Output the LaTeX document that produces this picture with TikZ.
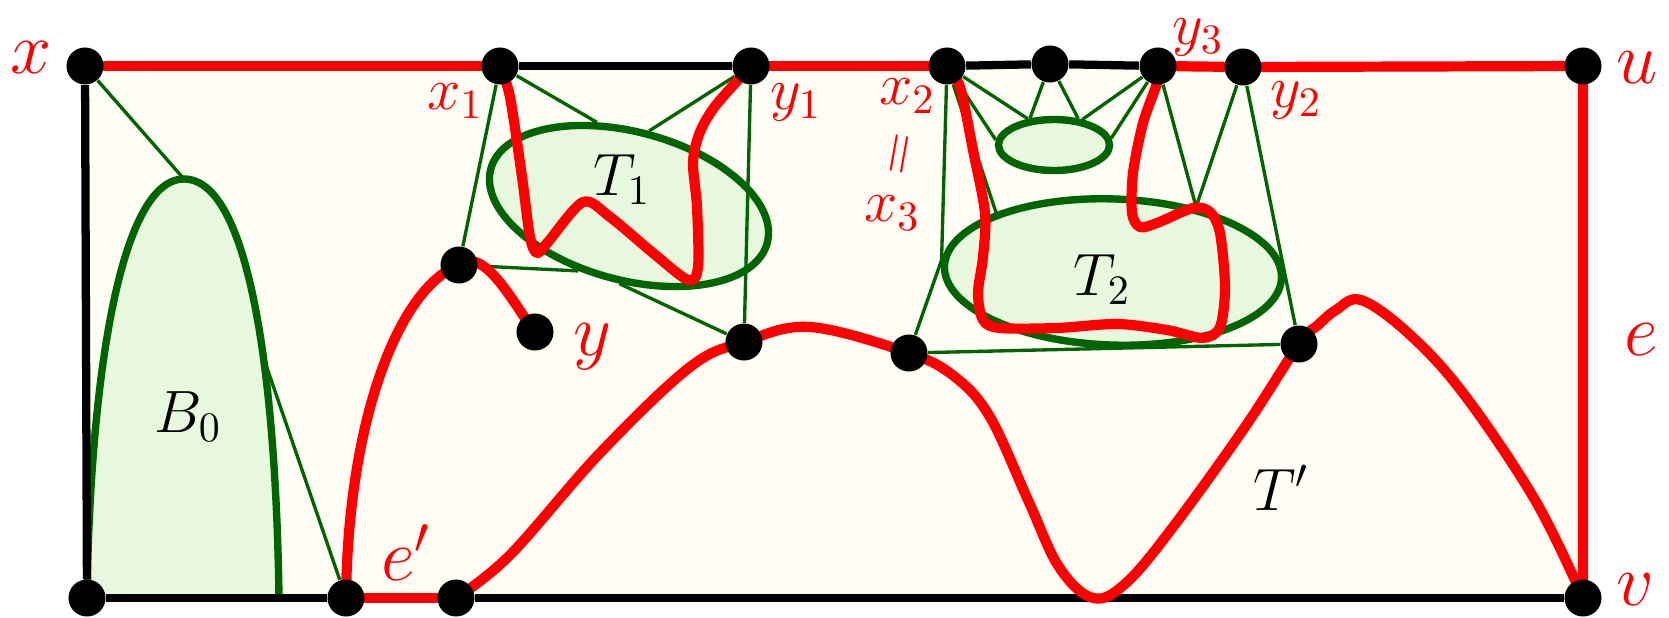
\RequirePackage{fix-cm}
\documentclass[tikz,border=0pt]{standalone}
\usetikzlibrary{shapes.geometric}
\pgfdeclarelayer{front}
\pgfsetlayers{main,front}
\definecolor{paper}{RGB}{255,253,244}
\definecolor{leaf}{RGB}{232,248,222}
\definecolor{moss}{RGB}{0,100,0}
\tikzset{
  vtx/.style={circle, fill=black, inner sep=0pt, minimum size=0.37cm},
  blob/.style={ellipse, draw=moss, fill=leaf, line width=2.1pt, inner sep=0pt},
  tie/.style={moss, line width=0.95pt},
  rim/.style={black, line width=2.35pt},
  cyc/.style={red, line width=2.9pt, line cap=round, line join=round},
  lab/.style={text=red, inner sep=0pt, font=\fontsize{21}{25}\selectfont},
  sublab/.style={text=red, inner sep=0pt, font=\fontsize{17}{20}\selectfont},
  blobname/.style={inner sep=0pt, font=\fontsize{17}{20}\selectfont},
}
\begin{document}
\begin{tikzpicture}[x=0.01cm, y=0.01cm]
  \useasboundingbox (0,0) rectangle (1669,617);
  \begin{pgfonlayer}{front}
    \foreach \vn/\vx/\vy in {x/85/551, x1/500/551, y1/751/551, x2/947/551,
        m/1050/553, y3/1158/551, y2/1243/550, u/1583/551, v/1583/19,
        w/87/19, ea/346/19, eb/456/19, s/459/352, y/535/285, t/744/275,
        r/909/264, z/1299/273}
      \node[vtx] (\vn) at (\vx,\vy) {};
  \end{pgfonlayer}
  \fill[paper] (85,19) rectangle (1583,551);
  % B0
  \coordinate (b0top) at (184,438);
  \coordinate (b0r) at (265,255);
  \filldraw[fill=leaf, draw=moss, line width=2.1pt] (w.center)
    .. controls (90,237) and (120,438) .. (b0top)
    .. controls (250,438) and (276,237) .. (279,19);
  % blobs
  \node[blob, minimum width=2.86cm, minimum height=1.48cm, rotate=-15] (T1) at (629,411) {};
  \node[blob, minimum width=3.37cm, minimum height=1.46cm, rotate=-2] (T2) at (1113,345) {};
  \node[blob, minimum width=1.11cm, minimum height=0.51cm] (Ts) at (1054,472) {};
  % green edges
  \draw[tie] (x) -- (b0top);
  \draw[tie] (b0r) -- (ea);
  \draw[tie] (x1) -- (T1.126);
  \draw[tie] (y1) -- (T1.90);
  \draw[tie] (x1) -- (s);
  \draw[tie] (y1) -- (t);
  \draw[tie] (s) -- (T1.247);
  \draw[tie] (t) -- (T1.278);
  \draw[tie] (x2) -- (Ts.175);
  \draw[tie] (x2) -- (Ts.135);
  \draw[tie] (m) -- (Ts.132);
  \draw[tie] (m) -- (Ts.48);
  \draw[tie] (y3) -- (Ts.42);
  \draw[tie] (y3) -- (Ts.7);
  \draw[tie] (x2) -- (T2.178) -- (r);
  \draw[tie] (x2) -- (T2.155);
  \draw[tie] (y3) -- (T2.40) -- (y2);
  \draw[tie] (y2) -- (z);
  \draw[tie] (r) -- (z);
  % outer face
  \draw[rim] (w) -- (x);
  \draw[rim] (w) -- (ea);
  \draw[rim] (eb) -- (v);
  \draw[rim] (x1) -- (y1);
  \draw[rim] (x2) -- (m) -- (y3);
  \draw[cyc] (x) -- (x1);
  \draw[cyc] (y1) -- (x2);
  \draw[cyc] (y3) -- (y2) -- (u) -- (v);
  \draw[cyc] (ea) -- (eb);
  % red paths
  \draw[cyc] (ea.center) .. controls (348,200) and (400,330) .. (s.center)
    .. controls (485,372) and (515,310) .. (y.center);
  \draw[cyc] plot[smooth, tension=0.6] coordinates {(eb.center) (510,62) (600,164)
    (690,250) (t.center) (810,290) (r.center) (955,240) (990,200) (1028,117)
    (1059,50) (1093,19) (1126,34) (1173,90) (1245,190) (z.center) (1318,292)
    (1336,307) (1361,317) (1408,284) (1463,224) (1535,117) (v.center)};
  \draw[cyc] plot[smooth, tension=0.5] coordinates {(x1.center) (510,520) (522,440)
    (530,380) (537,364) (548,375) (583,415) (610,400) (653,364) (688,337)
    (698,350) (697,410) (693,455) (700,485) (716,512) (y1.center)};
  \draw[cyc] plot[smooth, tension=0.5] coordinates {(x2.center) (960,530) (973,467)
    (985,404) (983,360) (978,324) (983,297) (1000,289) (1057,289) (1117,293)
    (1167,287) (1203,279) (1220,290) (1225,330) (1220,384) (1210,405)
    (1193,409) (1157,394) (1140,390) (1132,404) (1133,444) (1143,494)
    (1157,534) (y3.center)};
  % labels
  \node[lab] (xl) at (31,559) {$x$};
  \node[lab] (ul) at (1637,549) {$u$};
  \node[lab] (el) at (1641,277) {$e$};
  \node[lab] (vl) at (1635,27) {$v$};
  \node[lab] (yl) at (592,270) {$y$};
  \node[lab] (epl) at (406,64) {$e'$};
  \node[sublab] (x1l) at (455,516) {$x_1$};
  \node[sublab] (y1l) at (796,515) {$y_1$};
  \node[sublab] (x2l) at (907,521) {$x_2$};
  \node[sublab, rotate=80, font=\fontsize{16}{18}\selectfont] (eql) at (903,462) {$=$};
  \node[sublab] (x3l) at (892,404) {$x_3$};
  \node[sublab] (y3l) at (1198,580) {$y_3$};
  \node[sublab] (y2l) at (1296,517) {$y_2$};
  \node[blobname] (T1l) at (622,437) {$T_1$};
  \node[blobname] (T2l) at (1102,337) {$T_2$};
  \node[blobname] (B0l) at (188,200) {$B_0$};
  \node[blobname] (Tpl) at (1281,129) {$T'$};
\end{tikzpicture}
\end{document}
